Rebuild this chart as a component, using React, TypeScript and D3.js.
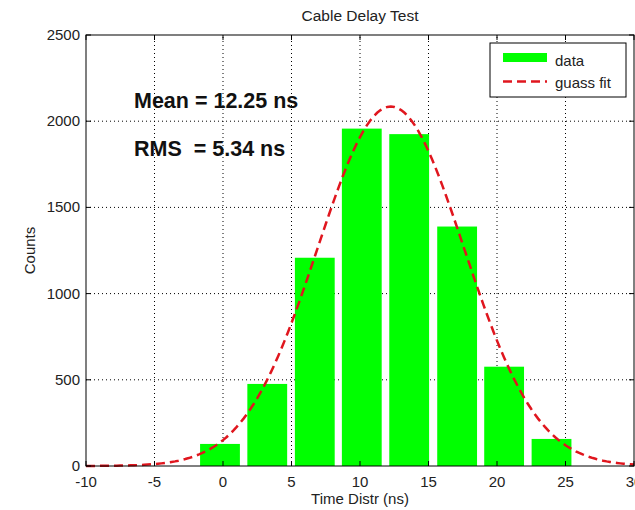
import React from "react";
import * as d3 from "d3";

// Histogram bins (centre of each bin, ns) and counts
const binCenters = [-0.22, 3.23, 6.7, 10.13, 13.59, 17.09, 20.52, 23.98];
const counts = [128, 476, 1208, 1957, 1925, 1389, 576, 157];
const binWidth = 3.46;

// Gaussian fit parameters
const fitMean = 12.25;
const fitSigma = 5.34;
const fitPeak = 2085;

const xTicks = [-10, -5, 0, 5, 10, 15, 20, 25, 30];
const yTicks = [0, 500, 1000, 1500, 2000, 2500];

const W = 635;
const H = 510;
const margin = { left: 86, right: 1, top: 35, bottom: 44 };

export default function App() {
  const x = d3.scaleLinear().domain([-10, 30]).range([margin.left, W - margin.right]);
  const y = d3.scaleLinear().domain([0, 2500]).range([H - margin.bottom, margin.top]);
  const x0 = margin.left;
  const x1 = W - margin.right;
  const y0 = H - margin.bottom;
  const y1 = margin.top;

  const fitXs = d3.range(-10, 30.0001, 0.25);
  const gauss = (v: number) => fitPeak * Math.exp(-((v - fitMean) ** 2) / (2 * fitSigma * fitSigma));
  const line = d3
    .line<number>()
    .x((v) => x(v))
    .y((v) => y(gauss(v)));

  const barW = x(binWidth * 0.84) - x(0);
  const font = "Arial, 'Liberation Sans', sans-serif";

  return (
    <svg
      width={W}
      height={H}
      style={{ position: "absolute", left: 0, top: 0, background: "#fff" }}
      fontFamily={font}
    >
      <rect x={0} y={0} width={W} height={H} fill="#fff" />
      {/* grid */}
      <g stroke="#000" strokeWidth={1} strokeDasharray="1,3">
        {xTicks.slice(1, -1).map((t) => (
          <line key={"gx" + t} x1={x(t)} x2={x(t)} y1={y0} y2={y1} />
        ))}
        {yTicks.slice(1, -1).map((t) => (
          <line key={"gy" + t} x1={x0} x2={x1} y1={y(t)} y2={y(t)} />
        ))}
      </g>
      {/* bars */}
      <g fill="#00ff00">
        {binCenters.map((c, i) => (
          <rect
            key={i}
            x={x(c) - barW / 2}
            width={barW}
            y={y(counts[i])}
            height={y(0) - y(counts[i])}
          />
        ))}
      </g>
      {/* gaussian fit */}
      <path
        d={line(fitXs) || ""}
        fill="none"
        stroke="#e0161e"
        strokeWidth={2.5}
        strokeDasharray="9,5"
      />
      {/* axes box */}
      <rect x={x0} y={y1} width={x1 - x0} height={y0 - y1} fill="none" stroke="#000" strokeWidth={1} />
      {/* ticks */}
      <g stroke="#000" strokeWidth={1}>
        {xTicks.map((t) => (
          <g key={"tx" + t}>
            <line x1={x(t)} x2={x(t)} y1={y0} y2={y0 - 5} />
            <line x1={x(t)} x2={x(t)} y1={y1} y2={y1 + 5} />
          </g>
        ))}
        {yTicks.map((t) => (
          <g key={"ty" + t}>
            <line x1={x0} x2={x0 + 5} y1={y(t)} y2={y(t)} />
            <line x1={x1} x2={x1 - 5} y1={y(t)} y2={y(t)} />
          </g>
        ))}
      </g>
      {/* tick labels */}
      <g fontSize={15} fill="#222">
        {xTicks.map((t) => (
          <text key={"lx" + t} x={x(t)} y={y0 + 21} textAnchor="middle">
            {t}
          </text>
        ))}
        {yTicks.map((t) => (
          <text key={"ly" + t} x={x0 - 6} y={y(t) + 5} textAnchor="end">
            {t}
          </text>
        ))}
      </g>
      {/* titles */}
      <text x={(x0 + x1) / 2} y={21} textAnchor="middle" fontSize={15.5} fill="#222">
        Cable Delay Test
      </text>
      <text x={(x0 + x1) / 2} y={504} textAnchor="middle" fontSize={15} fill="#222">
        Time Distr (ns)
      </text>
      <text
        transform={`translate(35,${(y0 + y1) / 2}) rotate(-90)`}
        textAnchor="middle"
        fontSize={15}
        fill="#222"
      >
        Counts
      </text>
      {/* annotations */}
      <g fontSize={21.5} fontWeight="bold" fill="#111">
        <text x={134} y={108}>Mean = 12.25 ns</text>
        <text x={134} y={156} style={{ whiteSpace: "pre" }}>
          {"RMS  = 5.34 ns"}
        </text>
      </g>
      {/* legend */}
      <g>
        <rect x={490} y={43} width={136} height={54} fill="#fff" stroke="#000" strokeWidth={1} />
        <rect x={503} y={53} width={44} height={9} fill="#00ff00" />
        <text x={555} y={66} fontSize={15} fill="#222">data</text>
        <line x1={503} x2={547} y1={81.5} y2={81.5} stroke="#e0161e" strokeWidth={2.5} strokeDasharray="9,5" />
        <text x={555} y={88} fontSize={15} fill="#222">guass fit</text>
      </g>
    </svg>
  );
}
